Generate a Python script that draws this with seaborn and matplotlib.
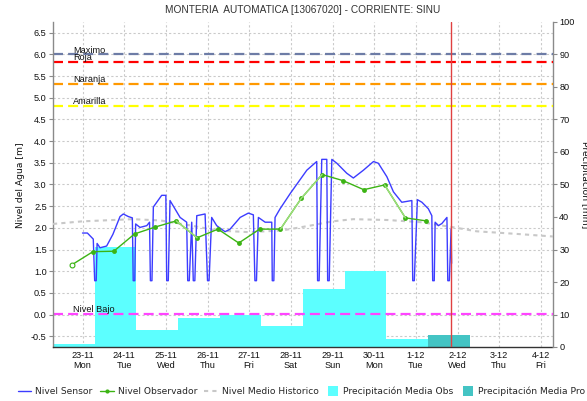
import matplotlib
matplotlib.use('Agg')
import matplotlib.pyplot as plt
import matplotlib.transforms as mtransforms
from matplotlib.lines import Line2D
import numpy as np
import pandas as pd
import seaborn as sns

TITLE = 'MONTERIA  AUTOMATICA [13067020] - CORRIENTE: SINU'
AXIS_START = '2020-11-22 07:00'
AXIS_END = '2020-12-04 07:00'
REF_DAY = '2020-11-23 00:00'      # all "hours" below count from here
NOW = '2020-12-01 20:30'

tick_days = ['2020-11-23', '2020-11-24', '2020-11-25', '2020-11-26', '2020-11-27', '2020-11-28',
             '2020-11-29', '2020-11-30', '2020-12-01', '2020-12-02', '2020-12-03', '2020-12-04']
tick_labels = ['23-11\nMon', '24-11\nTue', '25-11\nWed', '26-11\nThu', '27-11\nFri', '28-11\nSat',
               '29-11\nSun', '30-11\nMon', '1-12\nTue', '2-12\nWed', '3-12\nThu', '4-12\nFri']

# sensor level (m); 0.78 points are the short drop-outs
sensor_hours = [0, 2.8, 6.2, 7.0, 7.9, 8.4, 10.1, 13.9, 17.5, 21.6, 23.5, 26.4, 28.7, 29.2, 30.1,
                30.6, 33.1, 37.0, 38.6, 39.1, 40.0, 40.8, 45.6, 48.0, 48.5, 49.4, 50.4, 56.2,
                60.0, 60.6, 61.5, 62.9, 63.8, 64.7, 65.8, 70.6, 72.0, 72.9, 74.4, 77.3, 82.1,
                85.0, 90.8, 95.5, 98.4, 99.3, 100.2, 101.3, 105.2, 109.0, 109.3, 110.2, 110.9,
                113.8, 119.6, 129.2, 134.9, 135.4, 136.3, 137.8, 140.7, 141.2, 142.1, 143.6,
                146.5, 152.2, 156.0, 161.8, 167.6, 170.4, 175.3, 179.1, 183.9, 186.8, 189.7,
                190.2, 191.1, 192.9, 195.5, 199.2, 201.2, 201.7, 202.6, 203.1, 205.0, 207.0,
                209.9, 210.4, 211.3, 212.3, 212.6]
sensor_level = [1.88, 1.88, 1.74, 0.78, 0.78, 1.64, 1.54, 1.58, 1.85, 2.26, 2.32, 2.26, 2.23, 0.78, 0.78,
                2.09, 2.01, 2.05, 2.13, 0.78, 0.78, 2.48, 2.75, 2.75, 0.78, 0.78, 2.63, 2.24,
                2.13, 0.78, 0.78, 2.13, 0.78, 0.78, 2.28, 2.32, 0.78, 0.78, 2.24, 2.05, 1.91,
                1.97, 2.24, 2.34, 2.30, 0.78, 0.78, 2.24, 2.13, 2.13, 0.78, 0.78, 2.24,
                2.44, 2.79, 3.33, 3.53, 0.78, 0.78, 3.58, 3.58, 0.78, 0.78, 3.58,
                3.49, 3.26, 3.15, 3.33, 3.53, 3.49, 3.18, 2.83, 2.59, 2.61, 2.63,
                0.78, 0.78, 2.65, 2.59, 2.44, 2.28, 0.78, 0.78, 2.13, 2.05, 2.10,
                2.24, 0.78, 0.78, 1.97, 1.18]

# observer readings (m), twice a day
obs_hours = [-6, 6, 18, 30, 42, 54, 66, 78, 90, 102, 114, 126, 138, 150, 162, 174, 186, 198]
obs_level = [1.15, 1.45, 1.46, 1.86, 2.02, 2.16, 1.77, 1.97, 1.65, 1.97, 1.97, 2.68, 3.23, 3.09,
             2.88, 2.99, 2.23, 2.16]
obs_light = [(5, 6), (10, 11), (11, 12), (15, 16)]   # segments drawn in pale green

# historic mean level (m)
hist_hours = [-17, 0, 29, 45, 63, 77, 96, 115, 131, 144, 156, 176, 195, 214, 227, 250, 271]
hist_level = [2.09, 2.15, 2.20, 2.17, 2.05, 1.94, 1.90, 1.94, 2.05, 2.15, 2.20, 2.18, 2.13, 2.01,
              1.92, 1.86, 1.80]

# daily precipitation (mm), 07:00 to 07:00
precip_obs = [1.0, 30.7, 5.3, 8.8, 9.9, 6.6, 17.9, 23.3, 2.5]
precip_pro = [3.8]

thr_names = ['Maximo', 'Roja', 'Naranja', 'Amarilla', 'Nivel Bajo']
thr_values = [6.0, 5.83, 5.33, 4.82, 0.02]
thr_colors = ['#6d7ca6', '#ff0000', '#ff9900', '#ffff00', '#ff44ff']

level_ticks = np.arange(-0.5, 6.51, 0.5)
precip_ticks = np.arange(0, 101, 10)

C_SENSOR = '#3c3cff'
C_OBS = '#3cb414'
C_OBS_LIGHT = '#9ede7c'
C_HIST = '#c8c8c8'
C_PRE_OBS = '#5cffff'
C_PRE_PRO = '#44c4c4'
C_GRID = '#cacaca'
C_AXIS = '#8a8a8a'

sns.set_style('white')
plt.rcParams['font.family'] = ['Liberation Sans', 'DejaVu Sans']
plt.rcParams['font.size'] = 6.6

ref = pd.Timestamp(REF_DAY)
sensor = pd.DataFrame({'time': ref + pd.to_timedelta(sensor_hours, unit='h'), 'level': sensor_level})
obs = pd.DataFrame({'time': ref + pd.to_timedelta(obs_hours, unit='h'), 'level': obs_level})
hist = pd.DataFrame({'time': ref + pd.to_timedelta(hist_hours, unit='h'), 'level': hist_level})
ticks = pd.to_datetime(tick_days)

fig = plt.figure(figsize=(5.87, 4.01), dpi=100)
ax = fig.add_axes([53 / 587, 1 - 347 / 401, 500 / 587, 325 / 401])
ax2 = ax.twinx()
ax.set_zorder(ax2.get_zorder() + 1)
ax.patch.set_visible(False)

# precipitation bars on the right axis (drawn underneath)
bar_starts = pd.date_range(AXIS_START, periods=len(precip_obs) + len(precip_pro), freq='D')
ax2.bar(bar_starts[:len(precip_obs)], precip_obs, width=1.0, align='edge', color=C_PRE_OBS, lw=0, zorder=2)
ax2.bar(bar_starts[len(precip_obs):], precip_pro, width=1.0, align='edge', color=C_PRE_PRO, lw=0, zorder=2)

# grid lives on the lower axes so the bars cover it
grid_kw = dict(color=C_GRID, lw=0.8, ls=(0, (2, 2)), zorder=1)
for d in ticks:
    ax2.axvline(d, **grid_kw)
htrans = mtransforms.blended_transform_factory(ax2.transAxes, ax.transData)
for v in level_ticks:
    ax2.add_line(Line2D([0, 1], [v, v], transform=htrans, **grid_kw))

# alert thresholds
ltrans = mtransforms.blended_transform_factory(ax.transAxes, ax.transData)
for name, v, c in zip(thr_names, thr_values, thr_colors):
    ax.axhline(v, color=c, lw=1.6, ls=(0, (4.5, 2.3)), zorder=2)
    ax.annotate(name, xy=(0.04, v), xycoords=ltrans, xytext=(0, 3), textcoords='offset points',
                va='center', ha='left', fontsize=6.6, color='#111111', zorder=3)

sns.lineplot(data=hist, x='time', y='level', ax=ax, color=C_HIST, lw=1.5, ls=(0, (2, 2)),
             estimator=None, sort=False, legend=False, zorder=3)
sns.lineplot(data=sensor, x='time', y='level', ax=ax, color=C_SENSOR, lw=1.0,
             estimator=None, sort=False, legend=False, zorder=4)
sns.lineplot(data=obs, x='time', y='level', ax=ax, color=C_OBS, lw=1.0, marker='o', markersize=3.5,
             markeredgewidth=0, estimator=None, sort=False, legend=False, zorder=5)
for i, j in obs_light:
    ax.plot(obs['time'].iloc[[i, j]], obs['level'].iloc[[i, j]], color=C_OBS_LIGHT, lw=1.0, zorder=5)
ax.plot(obs['time'].iloc[[0]], obs['level'].iloc[[0]], ls='none', marker='o', ms=3.5,
        mfc='white', mec=C_OBS, mew=0.8, zorder=6)

ax.axvline(pd.Timestamp(NOW), color='#e04040', lw=1.0, zorder=7)

ax.set_xlim(pd.Timestamp(AXIS_START), pd.Timestamp(AXIS_END))
ax.set_ylim(-0.75, 6.75)
ax2.set_ylim(0, 100)

ax.set_xticks(ticks)
ax.set_xticklabels(tick_labels)
for t in ax.get_xticklabels():
    t.set_linespacing(1.05)
ax.set_yticks(level_ticks)
ax.set_yticklabels([f'{v:.1f}' for v in level_ticks])
ax2.set_yticks(precip_ticks)
ax2.set_yticklabels([str(v) for v in precip_ticks])
ax.tick_params(axis='x', length=0, pad=3, labelsize=6.6, colors='#111111')
ax.tick_params(axis='y', length=3, width=0.8, pad=1.5, labelsize=6.6, color=C_AXIS, labelcolor='#111111')
ax2.tick_params(axis='y', length=3, width=0.8, pad=1.5, labelsize=6.6, color=C_AXIS, labelcolor='#111111')
ax.set_xlabel('')
ax.set_ylabel('')

for s in ['top', 'right']:
    ax.spines[s].set_visible(False)
for s in ['top', 'left', 'bottom']:
    ax2.spines[s].set_visible(False)
ax.spines['left'].set_color(C_AXIS)
ax.spines['left'].set_linewidth(1.0)
ax2.spines['right'].set_color(C_AXIS)
ax2.spines['right'].set_linewidth(1.0)
ax.spines['bottom'].set_color('#333333')
ax.spines['bottom'].set_linewidth(1.0)
ax.spines['bottom'].set_linestyle((0, (1, 1)))

fig.text(303 / 587, 1 - 10 / 401, TITLE, ha='center', va='center', fontsize=7.3, color='#333333')
fig.text(21 / 587, 1 - 185 / 401, 'Nivel del Agua [m]', rotation=90, ha='center', va='center',
         fontsize=6.6, family='DejaVu Sans', color='#111111')
fig.text(584 / 587, 1 - 185 / 401, 'Precipitacion [mm]', rotation=270, ha='center', va='center',
         fontsize=6.6, family='DejaVu Sans', color='#111111')

handles = [
    Line2D([], [], color=C_SENSOR, lw=1.0),
    Line2D([], [], color=C_OBS, lw=1.0, marker='o', ms=3, mew=0),
    Line2D([], [], color=C_HIST, lw=1.5, ls=(0, (2, 2))),
    Line2D([], [], ls='none', marker='s', ms=6.5, mew=0, color=C_PRE_OBS),
    Line2D([], [], ls='none', marker='s', ms=6.5, mew=0, color=C_PRE_PRO),
]
labels = ['Nivel Sensor', 'Nivel Observador', 'Nivel Medio Historico',
          'Precipitación Media Obs', 'Precipitación Media Pro']
fig.legend(handles, labels, loc='center left', bbox_to_anchor=(18 / 587, 1 - 391 / 401), ncol=5,
           frameon=False, borderpad=0, borderaxespad=0, handlelength=1.46, handletextpad=0.44,
           columnspacing=0.8, prop={'family': 'DejaVu Sans', 'size': 6.6})

fig.savefig('out.png', dpi=100)
